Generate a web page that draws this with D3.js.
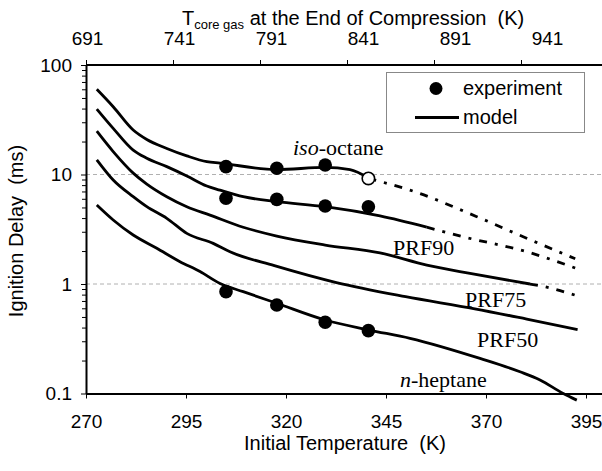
<!DOCTYPE html>
<html lang="en">
<head>
<meta charset="UTF-8">
<title>Ignition Delay vs Initial Temperature</title>
<style>
    body { margin: 0; background: #fff; }
    svg { display: block; }
    .axis text { font-family: "Liberation Sans", Arial, sans-serif; font-size: 19px; fill: #000; }
    .axis path, .axis line { stroke: #000; }
    .title { font-family: "Liberation Sans", Arial, sans-serif; font-size: 20px; fill: #000; }
    .curve-label { font-family: "Liberation Serif", "Times New Roman", serif; font-size: 22px; fill: #000; }
    .legend text { font-family: "Liberation Sans", Arial, sans-serif; font-size: 20px; fill: #000; }
</style>
</head>
<body>
<div id="chart"></div>
<script src="https://cdn.jsdelivr.net/npm/d3@7"></script>
<script>
// initial temperature (K), ignition delay (ms)
const isoOctane = [[272.7, 60], [276.8, 41.6], [281.8, 25.5], [285.2, 20.9], [290.2, 17.3], [295.2, 14.8],
    [300.2, 13.1], [303.5, 12.7], [317.7, 11.1], [329.8, 11.6], [336, 11.1], [340.6, 9.3]];
const isoOctaneExt = [[340.6, 9.2], [351, 7.2], [367.7, 4.12], [379.3, 2.7], [392.3, 1.7]];
const prf90 = [[272.7, 39.6], [276.8, 26.4], [281.8, 16.7], [285.2, 14.1], [290.2, 11.8], [295.2, 9.7],
    [300.2, 7.85], [303.5, 7.2], [309.3, 6.27], [317.7, 5.65], [329.8, 5.08], [343.5, 4.18], [355.2, 3.3]];
const prf90Ext = [[355.2, 3.3], [364.3, 2.7], [380.2, 1.97], [392.3, 1.4]];
const prf75 = [[272.7, 24.9], [276.8, 16.2], [281.8, 10.3], [285.2, 8.18], [290.2, 6.27], [295.2, 5.08],
    [301, 4.26], [309.3, 3.3], [317.7, 2.74], [329.8, 2.27], [343.5, 1.92], [355.2, 1.49], [366, 1.25], [381, 1.0]];
const prf75Ext = [[381, 1.0], [384.3, 0.95], [392.3, 0.79]];
const prf50 = [[272.7, 13.6], [276.8, 8.9], [281.8, 6.27], [285.2, 5.08], [290.2, 3.98], [295.2, 2.9],
    [301.8, 2.35], [306, 1.97], [317.1, 1.47], [332.6, 1.03], [349.9, 0.766], [367.2, 0.594], [380.2, 0.478], [392.9, 0.384]];
const nHeptane = [[272.7, 5.26], [276.8, 3.84], [281.8, 2.8], [287.7, 2.12], [293.5, 1.6], [298.5, 1.3],
    [303.5, 1.01], [309.3, 0.851], [317.7, 0.667], [329.8, 0.469], [340.8, 0.38], [351, 0.319],
    [368.5, 0.209], [378.5, 0.158], [383.5, 0.133], [389.3, 0.1], [392.7, 0.087]];

const expTemps = [305, 317.7, 329.8, 340.6];
const expIso = [11.8, 11.4, 12.2];
const expIsoOpen = [[340.6, 9.2]];
const expPrf90 = [6.07, 5.93, 5.16, 5.08];
const expHeptane = [0.851, 0.643, 0.447, 0.375];

const bottomTicks = [270, 295, 320, 345, 370, 395];
const topTicks = [691, 741, 791, 841, 891, 941];
const leftTicks = [0.1, 1, 10, 100];

const width = 602, height = 471;

const svg = d3.select("#chart").append("svg")
    .attr("width", width)
    .attr("height", height);

const x = d3.scaleLinear().domain([270, 399]).range([86, 602]);
const y = d3.scaleLog().domain([0.1, 100]).range([393.5, 65]);
// top axis: tick marks and labels are not spaced the same in the original
const xTopTick = d3.scaleLinear().domain([691, 941]).range([86, 521]);
const xTopLabel = d3.scaleLinear().domain([691, 941]).range([87, 547]);

// grid lines at 1 and 10
svg.selectAll(".grid")
    .data([1, 10])
    .enter()
    .append("line")
    .attr("x1", 86)
    .attr("x2", 602)
    .attr("y1", d => y(d))
    .attr("y2", d => y(d))
    .attr("stroke", "#b0b0b0")
    .attr("stroke-width", 1)
    .attr("stroke-dasharray", "4,3");

// bottom axis
const bottomAxis = svg.append("g")
    .attr("class", "axis")
    .attr("transform", `translate(0,${y(0.1)})`)
    .call(d3.axisBottom(x).tickValues(bottomTicks).tickSize(5).tickSizeOuter(0).tickPadding(16));
bottomAxis.select(".domain").attr("stroke-width", 2);

// left axis, minor ticks first
const minorTicks = [];
[0.1, 1, 10].forEach(d => { for (let k = 2; k <= 9; k++) minorTicks.push(d * k); });
svg.append("g")
    .attr("class", "axis")
    .attr("transform", "translate(86,0)")
    .call(d3.axisLeft(y).tickValues(minorTicks).tickFormat("").tickSize(4).tickSizeOuter(0))
    .select(".domain").remove();
const leftAxis = svg.append("g")
    .attr("class", "axis")
    .attr("transform", "translate(86,0)")
    .call(d3.axisLeft(y).tickValues(leftTicks).tickFormat(d3.format("")).tickSize(5).tickSizeOuter(0).tickPadding(9));
leftAxis.select(".domain").attr("stroke-width", 2);

// top axis
svg.append("g")
    .attr("class", "axis")
    .attr("transform", `translate(0,${y(100)})`)
    .call(d3.axisTop(xTopTick).tickValues(topTicks).tickFormat("").tickSize(5).tickSizeOuter(0))
    .select(".domain").remove();
svg.append("line")
    .attr("x1", 86).attr("x2", 602)
    .attr("y1", y(100)).attr("y2", y(100))
    .attr("stroke", "#000").attr("stroke-width", 2);
svg.append("g")
    .attr("class", "axis")
    .attr("transform", `translate(0,${y(100)})`)
    .call(d3.axisTop(xTopLabel).tickValues(topTicks).tickFormat(d3.format("")).tickSize(0).tickPadding(20))
    .call(g => g.select(".domain").remove())
    .call(g => g.selectAll("line").remove());

// axis titles
svg.append("text")
    .attr("class", "title")
    .attr("x", 345)
    .attr("y", 450)
    .attr("text-anchor", "middle")
    .text("Initial Temperature\u00a0\u00a0(K)");

svg.append("text")
    .attr("class", "title")
    .attr("transform", "translate(23,231) rotate(-90)")
    .attr("text-anchor", "middle")
    .text("Ignition Delay\u00a0\u00a0(ms)");

const topTitle = svg.append("text")
    .attr("class", "title")
    .attr("x", 182)
    .attr("y", 25);
topTitle.append("tspan").text("T");
topTitle.append("tspan").attr("font-size", "13px").attr("dy", 4).text("core gas");
topTitle.append("tspan").attr("dy", -4).text(" at the End of Compression\u00a0\u00a0(K)");

// curves
const line = d3.line()
    .curve(d3.curveMonotoneX)
    .x(d => x(d[0]))
    .y(d => y(d[1]));

svg.selectAll(".model")
    .data([isoOctane, prf90, prf75, prf50, nHeptane])
    .enter()
    .append("path")
    .attr("d", line)
    .attr("fill", "none")
    .attr("stroke", "#000")
    .attr("stroke-width", 2.8)
    .attr("stroke-linejoin", "round");

svg.selectAll(".ext")
    .data([isoOctaneExt, prf90Ext, prf75Ext])
    .enter()
    .append("path")
    .attr("d", line)
    .attr("fill", "none")
    .attr("stroke", "#000")
    .attr("stroke-width", 2.8)
    .attr("stroke-dasharray", "8,8,3,8");

// experiments
const expPoints = [];
expTemps.forEach((t, i) => {
    if (i < expIso.length) expPoints.push([t, expIso[i]]);
    expPoints.push([t, expPrf90[i]]);
    expPoints.push([t, expHeptane[i]]);
});

svg.selectAll(".exp")
    .data(expPoints)
    .enter()
    .append("circle")
    .attr("cx", d => x(d[0]))
    .attr("cy", d => y(d[1]))
    .attr("r", 6.8)
    .attr("fill", "#000");

svg.selectAll(".exp-open")
    .data(expIsoOpen)
    .enter()
    .append("circle")
    .attr("cx", d => x(d[0]))
    .attr("cy", d => y(d[1]))
    .attr("r", 6.2)
    .attr("fill", "#fff")
    .attr("stroke", "#000")
    .attr("stroke-width", 1.6);

// curve labels
const iso = svg.append("text").attr("class", "curve-label").attr("x", 293).attr("y", 155);
iso.append("tspan").attr("font-style", "italic").text("iso");
iso.append("tspan").text("-octane");

svg.append("text").attr("class", "curve-label").attr("x", 393).attr("y", 255).text("PRF90");
svg.append("text").attr("class", "curve-label").attr("x", 465).attr("y", 307).text("PRF75");
svg.append("text").attr("class", "curve-label").attr("x", 477).attr("y", 347).text("PRF50");

const hep = svg.append("text").attr("class", "curve-label").attr("x", 400).attr("y", 387);
hep.append("tspan").attr("font-style", "italic").text("n");
hep.append("tspan").text("-heptane");

// legend
const legend = svg.append("g").attr("class", "legend");
legend.append("rect")
    .attr("x", 386.5)
    .attr("y", 72.5)
    .attr("width", 198)
    .attr("height", 60)
    .attr("fill", "#fff")
    .attr("stroke", "#888")
    .attr("stroke-width", 1);
legend.append("circle")
    .attr("cx", 436)
    .attr("cy", 88.5)
    .attr("r", 6.5)
    .attr("fill", "#000");
legend.append("text").attr("x", 463).attr("y", 95).text("experiment");
legend.append("line")
    .attr("x1", 415).attr("x2", 459)
    .attr("y1", 117.5).attr("y2", 117.5)
    .attr("stroke", "#000")
    .attr("stroke-width", 2.8);
legend.append("text").attr("x", 463).attr("y", 124).text("model");
</script>
</body>
</html>
